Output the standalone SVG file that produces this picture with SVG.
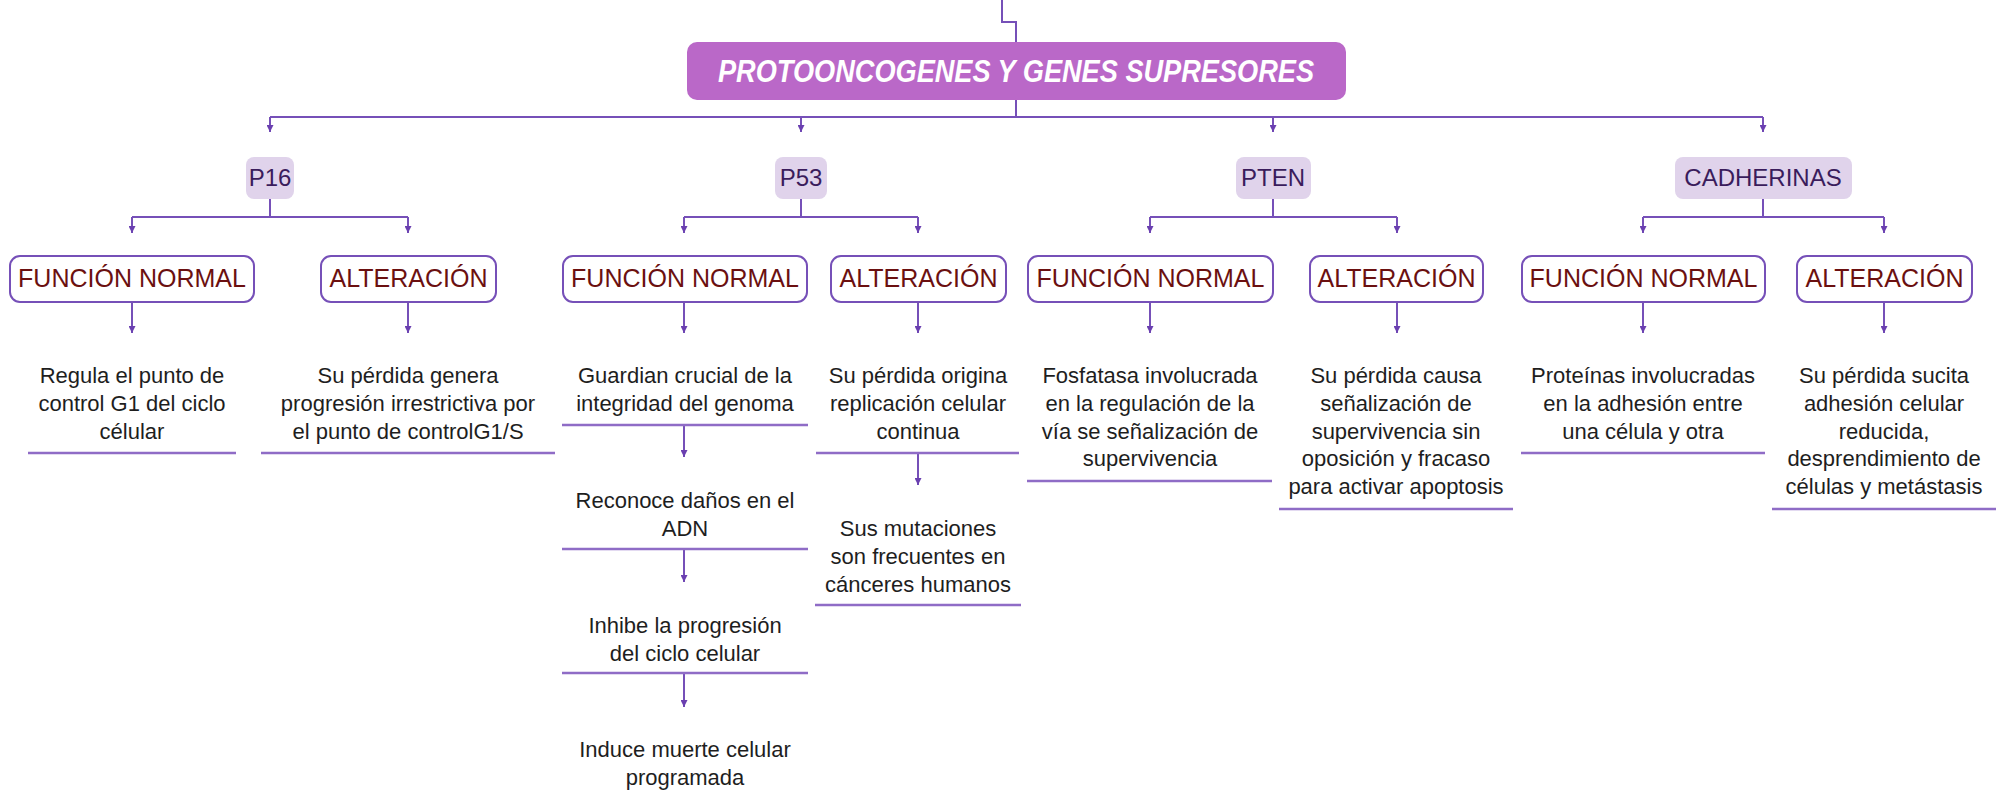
<svg xmlns="http://www.w3.org/2000/svg" width="2013" height="793" viewBox="0 0 2013 793">
<defs>
<style>
.conn{fill:none;stroke:#7650B8;stroke-width:2}
.ul{stroke:#8F6CC6;stroke-width:2.5}
.title{fill:#BA68C8}
.tt{font-family:"Liberation Sans",Arial,sans-serif;font-size:31px;font-weight:bold;font-style:italic;fill:#fff;text-anchor:middle}
.l2{fill:#E0D3EB}
.l2t{font-family:"Liberation Sans",Arial,sans-serif;font-size:24px;fill:#3A1C5C;text-anchor:middle}
.l3{fill:#fff;stroke:#7650B8;stroke-width:2}
.l3t{font-family:"Liberation Sans",Arial,sans-serif;font-size:25px;fill:#6B1010;text-anchor:middle}
.d{font-family:"Liberation Sans",Arial,sans-serif;font-size:22px;fill:#1E1E1E;text-anchor:middle}
</style>
<marker id="ah" viewBox="0 0 8 8" refX="8" refY="4" markerWidth="7" markerHeight="7" markerUnits="userSpaceOnUse" orient="auto">
<path d="M0,0 L8,4 L0,8 z" fill="#6A3FB0"/>
</marker>
</defs>
<rect width="2013" height="793" fill="#fff"/>

<g id="connectors">
<path class="conn" d="M1002 0 V22 H1016 V42"/>
<path class="conn" d="M1016 100 V117 M270 117 H1763"/>
<path class="conn" marker-end="url(#ah)" d="M270 117 V132"/>
<path class="conn" marker-end="url(#ah)" d="M801 117 V132"/>
<path class="conn" marker-end="url(#ah)" d="M1273 117 V132"/>
<path class="conn" marker-end="url(#ah)" d="M1763 117 V132"/>

<path class="conn" d="M270 199 V217 M132 217 H408"/>
<path class="conn" marker-end="url(#ah)" d="M132 217 V233"/>
<path class="conn" marker-end="url(#ah)" d="M408 217 V233"/>
<path class="conn" d="M801 199 V217 M684 217 H918"/>
<path class="conn" marker-end="url(#ah)" d="M684 217 V233"/>
<path class="conn" marker-end="url(#ah)" d="M918 217 V233"/>
<path class="conn" d="M1273 199 V217 M1150 217 H1397"/>
<path class="conn" marker-end="url(#ah)" d="M1150 217 V233"/>
<path class="conn" marker-end="url(#ah)" d="M1397 217 V233"/>
<path class="conn" d="M1763 199 V217 M1643 217 H1884"/>
<path class="conn" marker-end="url(#ah)" d="M1643 217 V233"/>
<path class="conn" marker-end="url(#ah)" d="M1884 217 V233"/>

<path class="conn" marker-end="url(#ah)" d="M132 302 V333"/>
<path class="conn" marker-end="url(#ah)" d="M408 302 V333"/>
<path class="conn" marker-end="url(#ah)" d="M684 302 V333"/>
<path class="conn" marker-end="url(#ah)" d="M918 302 V333"/>
<path class="conn" marker-end="url(#ah)" d="M1150 302 V333"/>
<path class="conn" marker-end="url(#ah)" d="M1397 302 V333"/>
<path class="conn" marker-end="url(#ah)" d="M1643 302 V333"/>
<path class="conn" marker-end="url(#ah)" d="M1884 302 V333"/>

<path class="conn" marker-end="url(#ah)" d="M684 425 V457"/>
<path class="conn" marker-end="url(#ah)" d="M684 549 V582"/>
<path class="conn" marker-end="url(#ah)" d="M684 673 V707"/>
<path class="conn" marker-end="url(#ah)" d="M918 453 V485"/>
</g>

<g id="title">
<rect class="title" x="687" y="42" width="659" height="58" rx="10"/>
<text class="tt" x="1016" y="82" textLength="596" lengthAdjust="spacingAndGlyphs">PROTOONCOGENES Y GENES SUPRESORES</text>
</g>

<g id="p16">
<rect class="l2" x="246" y="157" width="48" height="42" rx="8"/>
<text class="l2t" x="270" y="186">P16</text>
</g>
<g id="p53">
<rect class="l2" x="775" y="157" width="52" height="42" rx="8"/>
<text class="l2t" x="801" y="186">P53</text>
</g>
<g id="pten">
<rect class="l2" x="1236" y="157" width="75" height="42" rx="8"/>
<text class="l2t" x="1273" y="186">PTEN</text>
</g>
<g id="cadherinas">
<rect class="l2" x="1675" y="157" width="177" height="42" rx="8"/>
<text class="l2t" x="1763" y="186">CADHERINAS</text>
</g>

<g id="p16-fn">
<rect class="l3" x="10" y="256" width="244" height="46" rx="10"/>
<text class="l3t" x="132" y="287">FUNCIÓN NORMAL</text>
</g>
<g id="p16-al">
<rect class="l3" x="321" y="256" width="175" height="46" rx="10"/>
<text class="l3t" x="408.5" y="287">ALTERACIÓN</text>
</g>
<g id="p53-fn">
<rect class="l3" x="563" y="256" width="244" height="46" rx="10"/>
<text class="l3t" x="685" y="287">FUNCIÓN NORMAL</text>
</g>
<g id="p53-al">
<rect class="l3" x="831" y="256" width="175" height="46" rx="10"/>
<text class="l3t" x="918.5" y="287">ALTERACIÓN</text>
</g>
<g id="pten-fn">
<rect class="l3" x="1028" y="256" width="245" height="46" rx="10"/>
<text class="l3t" x="1150.5" y="287">FUNCIÓN NORMAL</text>
</g>
<g id="pten-al">
<rect class="l3" x="1310" y="256" width="173" height="46" rx="10"/>
<text class="l3t" x="1396.5" y="287">ALTERACIÓN</text>
</g>
<g id="cad-fn">
<rect class="l3" x="1522" y="256" width="243" height="46" rx="10"/>
<text class="l3t" x="1643.5" y="287">FUNCIÓN NORMAL</text>
</g>
<g id="cad-al">
<rect class="l3" x="1797" y="256" width="175" height="46" rx="10"/>
<text class="l3t" x="1884.5" y="287">ALTERACIÓN</text>
</g>

<g id="p16-fn-d">
<text class="d" x="132" y="383"><tspan x="132">Regula el punto de</tspan><tspan x="132" dy="27.8">control G1 del ciclo</tspan><tspan x="132" dy="27.8">célular</tspan></text>
<line class="ul" x1="28" y1="453" x2="236" y2="453"/>
</g>
<g id="p16-al-d">
<text class="d" x="408" y="383"><tspan x="408">Su pérdida genera</tspan><tspan x="408" dy="27.8">progresión irrestrictiva por</tspan><tspan x="408" dy="27.8">el punto de controlG1/S</tspan></text>
<line class="ul" x1="261" y1="453" x2="555" y2="453"/>
</g>
<g id="p53-fn-d1">
<text class="d" x="685" y="383"><tspan x="685">Guardian crucial de la</tspan><tspan x="685" dy="27.8">integridad del genoma</tspan></text>
<line class="ul" x1="562" y1="425" x2="808" y2="425"/>
</g>
<g id="p53-fn-d2">
<text class="d" x="685" y="508"><tspan x="685">Reconoce daños en el</tspan><tspan x="685" dy="27.8">ADN</tspan></text>
<line class="ul" x1="562" y1="549" x2="808" y2="549"/>
</g>
<g id="p53-fn-d3">
<text class="d" x="685" y="633"><tspan x="685">Inhibe la progresión</tspan><tspan x="685" dy="27.8">del ciclo celular</tspan></text>
<line class="ul" x1="562" y1="673" x2="808" y2="673"/>
</g>
<g id="p53-fn-d4">
<text class="d" x="685" y="757"><tspan x="685">Induce muerte celular</tspan><tspan x="685" dy="27.8">programada</tspan></text>
</g>
<g id="p53-al-d1">
<text class="d" x="918" y="383"><tspan x="918">Su pérdida origina</tspan><tspan x="918" dy="27.8">replicación celular</tspan><tspan x="918" dy="27.8">continua</tspan></text>
<line class="ul" x1="816" y1="453" x2="1019" y2="453"/>
</g>
<g id="p53-al-d2">
<text class="d" x="918" y="536"><tspan x="918">Sus mutaciones</tspan><tspan x="918" dy="27.8">son frecuentes en</tspan><tspan x="918" dy="27.8">cánceres humanos</tspan></text>
<line class="ul" x1="815" y1="605" x2="1021" y2="605"/>
</g>
<g id="pten-fn-d">
<text class="d" x="1150" y="383"><tspan x="1150">Fosfatasa involucrada</tspan><tspan x="1150" dy="27.8">en la regulación de la</tspan><tspan x="1150" dy="27.8">vía se señalización de</tspan><tspan x="1150" dy="27.8">supervivencia</tspan></text>
<line class="ul" x1="1027" y1="481" x2="1272" y2="481"/>
</g>
<g id="pten-al-d">
<text class="d" x="1396" y="383"><tspan x="1396">Su pérdida causa</tspan><tspan x="1396" dy="27.8">señalización de</tspan><tspan x="1396" dy="27.8">supervivencia sin</tspan><tspan x="1396" dy="27.8">oposición y fracaso</tspan><tspan x="1396" dy="27.8">para activar apoptosis</tspan></text>
<line class="ul" x1="1279" y1="509" x2="1513" y2="509"/>
</g>
<g id="cad-fn-d">
<text class="d" x="1643" y="383"><tspan x="1643">Proteínas involucradas</tspan><tspan x="1643" dy="27.8">en la adhesión entre</tspan><tspan x="1643" dy="27.8">una célula y otra</tspan></text>
<line class="ul" x1="1521" y1="453" x2="1765" y2="453"/>
</g>
<g id="cad-al-d">
<text class="d" x="1884" y="383"><tspan x="1884">Su pérdida sucita</tspan><tspan x="1884" dy="27.8">adhesión celular</tspan><tspan x="1884" dy="27.8">reducida,</tspan><tspan x="1884" dy="27.8">desprendimiento de</tspan><tspan x="1884" dy="27.8">células y metástasis</tspan></text>
<line class="ul" x1="1772" y1="509" x2="1996" y2="509"/>
</g>
</svg>
